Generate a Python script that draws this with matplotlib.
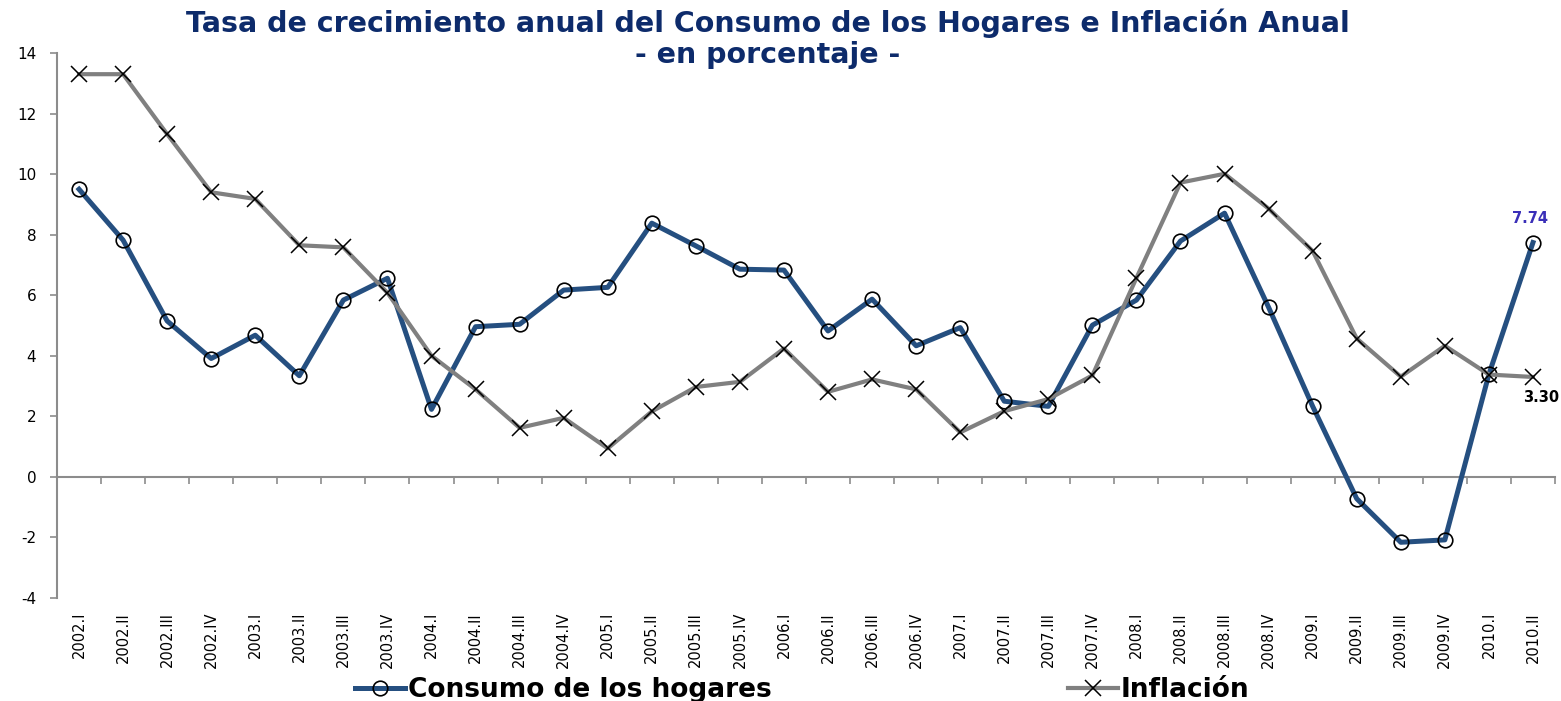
import numpy as np
import matplotlib.pyplot as plt
from matplotlib.lines import Line2D

##########
#  DATA  #
##########
quarters = ['2002.I', '2002.II', '2002.III', '2002.IV',
            '2003.I', '2003.II', '2003.III', '2003.IV',
            '2004.I', '2004.II', '2004.III', '2004.IV',
            '2005.I', '2005.II', '2005.III', '2005.IV',
            '2006.I', '2006.II', '2006.III', '2006.IV',
            '2007.I', '2007.II', '2007.III', '2007.IV',
            '2008.I', '2008.II', '2008.III', '2008.IV',
            '2009.I', '2009.II', '2009.III', '2009.IV',
            '2010.I', '2010.II']

consumo = [9.50, 7.82, 5.15, 3.91, 4.68, 3.34, 5.84, 6.56,
           2.23, 4.96, 5.04, 6.17, 6.26, 8.38, 7.63, 6.86,
           6.83, 4.82, 5.87, 4.33, 4.93, 2.50, 2.33, 5.01,
           5.84, 7.79, 8.71, 5.60, 2.33, -0.72, -2.16, -2.08,
           3.39, 7.74]

inflacion = [13.30, 13.30, 11.32, 9.40, 9.18, 7.65, 7.58, 6.08,
             4.00, 2.89, 1.62, 1.95, 0.94, 2.16, 2.97, 3.14,
             4.24, 2.81, 3.22, 2.89, 1.47, 2.17, 2.57, 3.35,
             6.57, 9.72, 10.01, 8.86, 7.46, 4.57, 3.31, 4.33,
             3.38, 3.30]

yticks = [-4, -2, 0, 2, 4, 6, 8, 10, 12, 14]

title_1 = 'Tasa de crecimiento anual del Consumo de los Hogares e Inflación Anual'
title_2 = '- en porcentaje -'
lab_consumo = 'Consumo de los hogares'
lab_inflacion = 'Inflación'

BLUE = '#254f80'
GREY = '#808080'
NAVY = '#0d2b6b'
AXIS = '#8c8c8c'

############
#  FIGURE  #
############
fig = plt.figure(figsize=(15.61, 7.01), dpi=100)
ax = fig.add_axes([57/1561, 1-598/701, (1555-57)/1561, (598-53)/701])

x = np.arange(len(quarters))

ax.plot(x, consumo, color=BLUE, lw=3.6, marker='o', ms=10.5,
        mfc='none', mec='black', mew=1.2, zorder=3)
ax.plot(x, inflacion, color=GREY, lw=3.0, marker='x', ms=11,
        mec='black', mew=1.1, zorder=4)

ax.set_xlim(-0.5, len(quarters)-0.5)
ax.set_ylim(-4, 14)

# spines
for s in ['top', 'right']:
    ax.spines[s].set_visible(False)
ax.spines['left'].set_color(AXIS)
ax.spines['left'].set_linewidth(1.5)
ax.spines['bottom'].set_position(('data', 0))
ax.spines['bottom'].set_color(AXIS)
ax.spines['bottom'].set_linewidth(1.5)

ax.set_yticks(yticks)
ax.set_yticklabels([str(v) for v in yticks], fontsize=11)
ax.tick_params(axis='y', direction='out', length=5, width=1.2,
               color=AXIS, pad=10)

# boundary ticks on the zero axis, category names at the bottom
ax.set_xticks(np.arange(len(quarters)+1) - 0.5)
ax.set_xticklabels([])
ax.tick_params(axis='x', direction='out', length=5, width=1.2, color=AXIS)

for i, q in enumerate(quarters):
    ax.annotate(q, xy=(i, 0), xycoords=ax.get_xaxis_transform(),
                xytext=(0, -10), textcoords='offset points',
                rotation=90, ha='center', va='top', fontsize=10.5,
                family=['Liberation Sans Narrow', 'DejaVu Sans'])

# last values
ax.annotate(f'{consumo[-1]:.2f}', xy=(x[-1], consumo[-1]),
            xytext=(-2, 17), textcoords='offset points',
            ha='center', va='center', fontsize=10.5, fontweight='bold',
            color='#3a2fb8')
ax.annotate(f'{inflacion[-1]:.2f}', xy=(x[-1], inflacion[-1]),
            xytext=(6, -15), textcoords='offset points',
            ha='center', va='center', fontsize=10.5, fontweight='bold',
            color='black')

###########
#  TITLE  #
###########
fig.text(768/1561, 1-32/701, title_1, ha='center', va='baseline',
         fontsize=20.5, fontweight='bold', color=NAVY)
fig.text(768/1561, 1-63/701, title_2, ha='center', va='baseline',
         fontsize=20.5, fontweight='bold', color=NAVY)

############
#  LEGEND  #
############
handles = [Line2D([], [], color=BLUE, lw=3.6, marker='o', ms=10.5,
                  mfc='none', mec='black', mew=1.2),
           Line2D([], [], color=GREY, lw=3.0, marker='x', ms=11,
                  mec='black', mew=1.1)]
fig.legend(handles, [lab_consumo, lab_inflacion], ncol=2,
           loc='center left', bbox_to_anchor=(355/1561, 1-690/701),
           frameon=False, borderpad=0, borderaxespad=0,
           handlelength=1.9, handletextpad=0.12, columnspacing=11.2,
           prop={'size': 19, 'weight': 'bold'})

fig.savefig('out.png', dpi=100)
